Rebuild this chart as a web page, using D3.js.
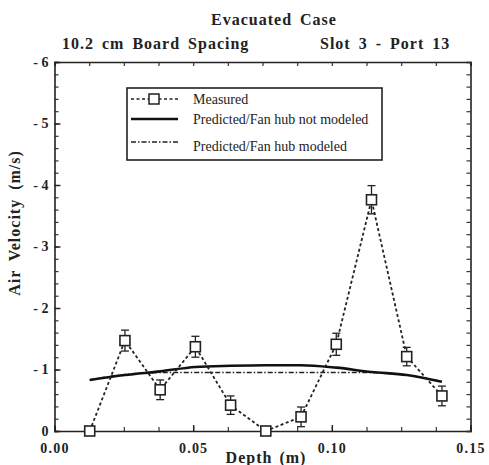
<!DOCTYPE html>
<html><head><meta charset="utf-8">
<script src="https://cdn.jsdelivr.net/npm/d3@7"></script>
<style>body{margin:0;background:#fff;} svg{display:block;}</style>
</head><body>
<script>
const depth = [0.0127,0.0254,0.0381,0.0508,0.0635,0.0762,0.0889,0.1016,0.1143,0.1270,0.1397];
const measured = [0.00,-1.47,-0.67,-1.37,-0.42,0.00,-0.23,-1.41,-3.76,-1.21,-0.57];
const measErr = [0.00,0.17,0.16,0.17,0.15,0.00,0.16,0.18,0.23,0.15,0.16];
const predNoHub = [-0.83,-0.91,-0.97,-1.04,-1.06,-1.07,-1.07,-1.03,-0.96,-0.91,-0.80];
const predHub   = [-0.83,-0.92,-0.95,-0.95,-0.95,-0.95,-0.95,-0.95,-0.95,-0.91,-0.80];
const xTicks = [0.00,0.05,0.10,0.15];
const yTicks = [0,-1,-2,-3,-4,-5,-6];
const legendLabels = ["Measured","Predicted/Fan hub not modeled","Predicted/Fan hub modeled"];

const W=489,H=465;
const L=54.5,R=470.5,T=62,B=431;
const svg=d3.select("body").append("svg").attr("width",W).attr("height",H);
const x=d3.scaleLinear().domain([0,0.15]).range([L,R]);
const y=d3.scaleLinear().domain([0,-6]).range([B,T]);
const serif="'Liberation Serif','Times New Roman',serif";

function title(t,xx,yy,anchor){
  svg.append("text").attr("x",xx).attr("y",yy).attr("text-anchor",anchor||"start")
    .attr("font-family",serif).attr("font-weight","bold").attr("font-size",16)
    .attr("letter-spacing",1).attr("word-spacing",3).attr("fill","#222").text(t);
}
title("Evacuated Case",274,25,"middle");
title("10.2 cm Board Spacing",62,49);
title("Slot 3 - Port 13",320,49);

// axes (inward ticks)
const fmtY=d=>d===0?"0":"- "+Math.abs(d);
const gB=svg.append("g").attr("transform",`translate(0,${B})`)
  .call(d3.axisBottom(x).tickValues(d3.range(0,0.1501,0.0125)).tickSize(-4).tickFormat(""));
const gT=svg.append("g").attr("transform",`translate(0,${T})`)
  .call(d3.axisTop(x).tickValues(d3.range(0,0.1501,0.0125)).tickSize(-4).tickFormat(""));
const gL=svg.append("g").attr("transform",`translate(${L},0)`)
  .call(d3.axisLeft(y).tickValues(d3.range(0,-6.01,-0.2)).tickSize(-4).tickFormat(""));
const gR=svg.append("g").attr("transform",`translate(${R},0)`)
  .call(d3.axisRight(y).tickValues(d3.range(0,-6.01,-0.2)).tickSize(-4).tickFormat(""));
[gB,gT,gL,gR].forEach(g=>{g.select(".domain").attr("stroke","#222").attr("stroke-width",1.6);
  g.selectAll(".tick line").attr("stroke","#333").attr("stroke-width",1.2);});
svg.append("g").attr("transform",`translate(0,${B})`)
  .call(d3.axisBottom(x).tickValues(xTicks).tickSize(-6).tickFormat(d3.format(".2f")).tickPadding(12))
  .call(g=>{g.select(".domain").remove();g.selectAll(".tick line").attr("stroke","#222").attr("stroke-width",1.4);
    g.selectAll("text").attr("font-family",serif).attr("font-weight","bold").attr("font-size",14)
     .attr("letter-spacing",1.2).attr("fill","#222");});
svg.append("g").attr("transform",`translate(${L},0)`)
  .call(d3.axisLeft(y).tickValues(yTicks).tickSize(-6).tickFormat(fmtY).tickPadding(6))
  .call(g=>{g.select(".domain").remove();g.selectAll(".tick line").attr("stroke","#222").attr("stroke-width",1.4);
    g.selectAll("text").attr("font-family",serif).attr("font-weight","bold").attr("font-size",14).attr("fill","#222");});

// axis titles
svg.append("text").attr("x",266).attr("y",463).attr("text-anchor","middle")
  .attr("font-family",serif).attr("font-weight","bold").attr("font-size",16)
  .attr("letter-spacing",1).attr("word-spacing",2).attr("fill","#222").text("Depth (m)");
svg.append("text").attr("transform","translate(20,223) rotate(-90)").attr("text-anchor","middle")
  .attr("font-family",serif).attr("font-weight","bold").attr("font-size",16)
  .attr("letter-spacing",1).attr("word-spacing",4).attr("fill","#222").text("Air Velocity (m/s)");

// lines
const line=d3.line().x(d=>x(d[0])).y(d=>y(d[1])).curve(d3.curveMonotoneX);
svg.append("path").datum(depth.map((d,i)=>[d,predHub[i]])).attr("d",line)
  .attr("fill","none").attr("stroke","#222").attr("stroke-width",1.5).attr("stroke-dasharray","5,2,1.5,2");
svg.append("path").datum(depth.map((d,i)=>[d,predNoHub[i]])).attr("d",line)
  .attr("fill","none").attr("stroke","#111").attr("stroke-width",2.6);
svg.append("path").datum(depth.map((d,i)=>[d,measured[i]]))
  .attr("d",d3.line().x(d=>x(d[0])).y(d=>y(d[1])))
  .attr("fill","none").attr("stroke","#222").attr("stroke-width",1.8).attr("stroke-dasharray","3,2.5");

// error bars
const eb=svg.append("g").attr("stroke","#222").attr("stroke-width",1.3);
depth.forEach((d,i)=>{
  if(measErr[i]<=0) return;
  const cx=x(d), y1=y(measured[i]-measErr[i]), y2=y(measured[i]+measErr[i]);
  eb.append("line").attr("x1",cx).attr("x2",cx).attr("y1",y1).attr("y2",y2);
  eb.append("line").attr("x1",cx-4).attr("x2",cx+4).attr("y1",y1).attr("y2",y1);
  eb.append("line").attr("x1",cx-4).attr("x2",cx+4).attr("y1",y2).attr("y2",y2);
});
// squares
svg.append("g").selectAll("rect").data(depth).join("rect")
  .attr("x",d=>x(d)-5).attr("y",(d,i)=>y(measured[i])-5).attr("width",10).attr("height",10)
  .attr("fill","#fff").attr("stroke","#222").attr("stroke-width",1.6);

// legend
const lg=svg.append("g");
lg.append("rect").attr("x",127).attr("y",88).attr("width",255).attr("height",72)
  .attr("fill","#fff").attr("stroke","#222").attr("stroke-width",1.6);
const ly=[99,119,142];
const ty=[104,124,151];
lg.append("line").attr("x1",131).attr("x2",178).attr("y1",ly[0]).attr("y2",ly[0])
  .attr("stroke","#222").attr("stroke-width",1.6).attr("stroke-dasharray","3,2.5");
lg.append("rect").attr("x",149).attr("y",ly[0]-5).attr("width",10).attr("height",10)
  .attr("fill","#fff").attr("stroke","#222").attr("stroke-width",1.5);
lg.append("line").attr("x1",131).attr("x2",178).attr("y1",ly[1]).attr("y2",ly[1])
  .attr("stroke","#111").attr("stroke-width",2.4);
lg.append("line").attr("x1",131).attr("x2",178).attr("y1",ly[2]).attr("y2",ly[2])
  .attr("stroke","#222").attr("stroke-width",1.4).attr("stroke-dasharray","5,2,1.5,2");
legendLabels.forEach((t,i)=>{
  lg.append("text").attr("x",193).attr("y",ty[i]).attr("font-family",serif)
    .attr("font-size",14).attr("fill","#222").text(t);
});
</script>
</body></html>
